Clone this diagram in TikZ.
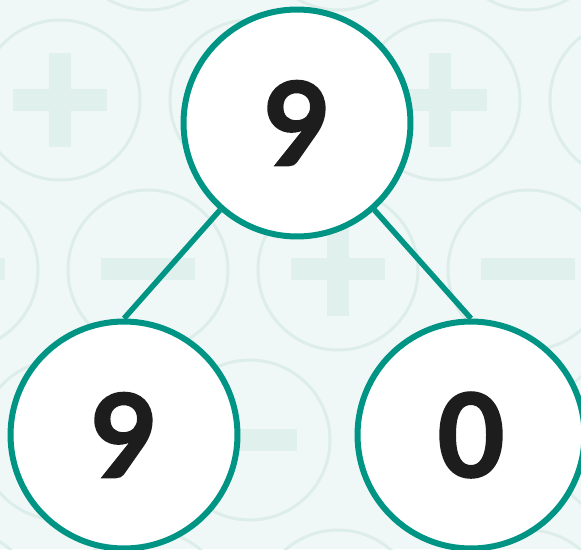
\documentclass[tikz,border=0pt]{standalone}
\usepackage{fontspec}
\setmainfont{Lato}
\newfontfamily\digitfont[BoldFeatures={FakeBold=1.6}]{Lato}
\usepackage{xcolor}
\definecolor{teal9}{RGB}{0,148,133}
\definecolor{bgmint}{RGB}{240,248,247}
\definecolor{ringmint}{RGB}{221,238,234}
\definecolor{signmint}{RGB}{223,240,237}
\definecolor{digit}{RGB}{29,29,29}
\tikzset{
  plussign/.pic={\fill[signmint] (-47,-11) rectangle (47,11); \fill[signmint] (-11,-47) rectangle (11,47);},
  minussign/.pic={\fill[signmint] (-47,-11) rectangle (47,11);}
}

\begin{document}
\begin{tikzpicture}[x=0.02cm,y=-0.02cm,
  ring/.style={draw=ringmint,line width=0.06cm},
  bond/.style={draw=teal9,line width=0.11cm},
  num/.style={circle,draw=teal9,fill=white,line width=0.12cm,minimum size=4.54cm,inner sep=0pt,text=digit,font=\digitfont\fontsize{66}{66}\selectfont\bfseries}]
\useasboundingbox (0,0) rectangle (581,549);
\clip (0,0) rectangle (581,549);
\fill [bgmint] (0,0) rectangle (581,549);
% pattern of rings
\foreach \r in {0,2,4} \foreach \c in {0,1,2,3} \draw [ring] (-42+190*\c,-70+170*\r) circle (1.6cm);
\foreach \r in {1,3} \foreach \c in {-1,0,1,2,3} \draw [ring] (60+190*\c,-70+170*\r) circle (1.6cm);
\foreach \px/\py in {60/100,440/100,338/269} \pic at (\px,\py) {plussign};
\foreach \px/\py in {-42/269,148/269,528/269,250/440} \pic at (\px,\py) {minussign};
% the number bond
\node [num] (top) at (297,123) {9};
\node [num] (left) at (124,435) {9};
\node [num] (right) at (471,435) {0};
\draw [bond] (top) -- (left.north);
\draw [bond] (top) -- (right.north);
\end{tikzpicture}
\end{document}
